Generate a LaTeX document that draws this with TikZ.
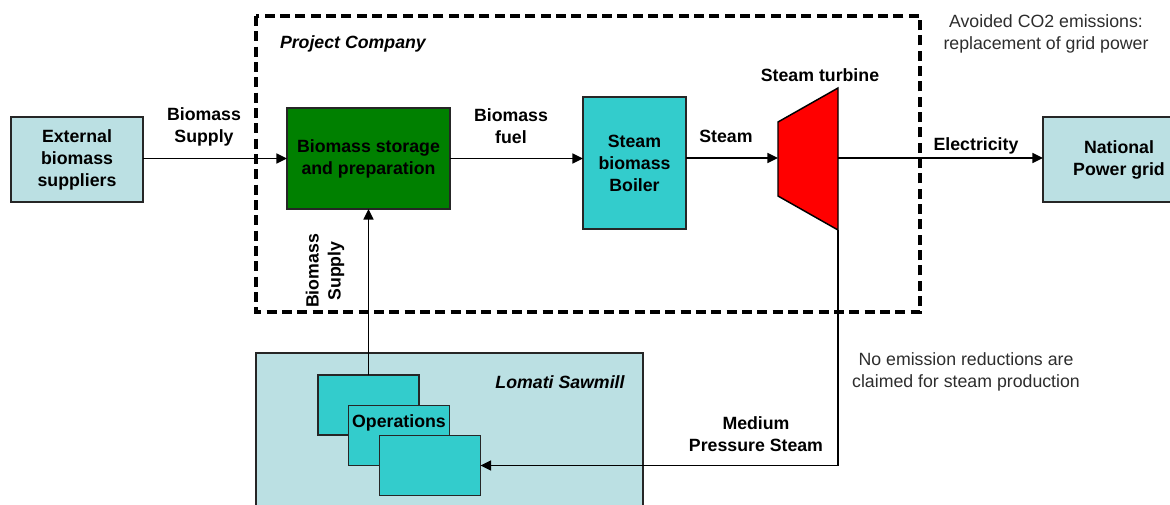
\documentclass[tikz,border=0pt]{standalone}
\usepackage{fontspec}
\setmainfont{Liberation Sans}
\usetikzlibrary{arrows.meta}
\definecolor{paleblue}{RGB}{187,224,227}
\definecolor{turq}{RGB}{51,204,204}
\definecolor{plantgreen}{RGB}{0,128,0}
\definecolor{notegray}{RGB}{45,45,45}
\begin{document}
\begin{tikzpicture}[y=0.75pt, x=0.75pt, yscale=-1, inner sep=0pt, outer sep=0pt,
  lbl/.style={font=\fontsize{13.3}{16.5}\selectfont\bfseries, align=center},
  ital/.style={font=\fontsize{13.3}{16.5}\selectfont\bfseries\itshape},
  note/.style={font=\fontsize{13.3}{16.5}\selectfont, align=center, text=notegray},
  flow/.style={draw=black, line width=1.2pt, -{Triangle[length=8pt,width=7.5pt]}},
  unit/.style={draw=black!85, line width=1.1pt, lbl}]
\useasboundingbox (0,0) rectangle (1170,504);
% project boundary
\draw[line width=2.3pt, dash pattern=on 7.5pt off 4pt] (256,16) rectangle (920,312);
\node[ital, anchor=west] (company) at (280,44) {Project Company};
% sawmill
\node[unit, fill=paleblue, minimum width=290.25pt, minimum height=125.25pt] (sawmill) at (449.5,436.5) {};
\node[ital] (sawlbl) at (560,382) {Lomati Sawmill};
\node[unit, fill=turq, minimum width=75.75pt, minimum height=45pt] (ops1) at (368.5,405) {};
\node[unit, fill=turq, minimum width=75.75pt, minimum height=45pt] (ops2) at (399,435.5) {};
\node[unit, fill=turq, minimum width=75.75pt, minimum height=45pt] (ops3) at (430,465.5) {};
\node[lbl] (opslbl) at (399,423) {Operations};
% main chain
\node[unit, fill=paleblue, minimum width=99pt, minimum height=63.75pt] (ext) at (77,159.5) {External\\biomass\\suppliers};
\node[unit, fill=plantgreen, minimum width=122.25pt, minimum height=75.75pt] (store) at (368.5,158.5) {Biomass storage\\and preparation};
\node[unit, fill=turq, minimum width=77.25pt, minimum height=99pt] (boiler) at (634.5,163) {Steam\\biomass\\Boiler};
\node[unit, fill=paleblue, minimum width=114pt, minimum height=63.75pt] (grid) at (1119,159.5) {National\\Power grid};
% turbine
\coordinate (turbin) at (778,158);
\coordinate (turbout) at (838,158);
\coordinate (turbbot) at (838,230);
\draw[fill=red, line width=1.1pt, line join=miter] (778,122) -- (838,88) -- (838,230) -- (778,196) -- cycle;
\node[lbl] (turblbl) at (820,75) {Steam turbine};
% connectors
\draw[flow] (ext.east |- store.west) -- (store.west);
\draw[flow] (store.east) -- (boiler.west |- store.east);
\draw[flow] (boiler.east |- turbin) -- (turbin);
\draw[flow] (turbout) -- (grid.west |- turbout);
\draw[flow] (ops1.north) -- (store.south);
\draw[flow] (turbbot) |- (ops3.east);
% labels
\node[lbl] (supply) at (204,127) {Biomass\\Supply};
\node[lbl] (fuel) at (511,126) {Biomass\\fuel};
\node[lbl] (steam) at (726,136) {Steam};
\node[lbl] (elec) at (976,146) {Electricity};
\node[lbl, rotate=90] (supply2) at (325,271) {Biomass\\Supply};
\node[lbl] (mps) at (756,434) {Medium\\Pressure Steam};
\node[note] (avoided) at (1046,34) {Avoided CO2 emissions:\\replacement of grid power};
\node[note] (noclaim) at (966,372) {No emission reductions are\\claimed for steam production};
\end{tikzpicture}
\end{document}
